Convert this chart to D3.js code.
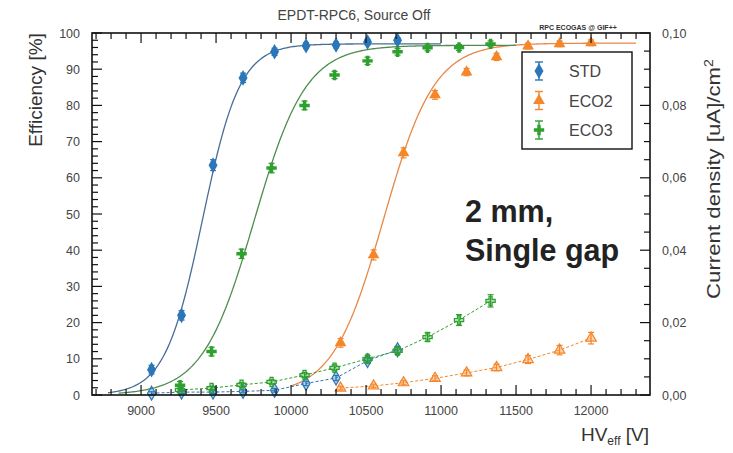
<!DOCTYPE html>
<html><head><meta charset="utf-8">
<script src="https://cdn.jsdelivr.net/npm/d3@7"></script>
<style>body{margin:0;background:#fff}svg{display:block}</style>
</head><body>
<svg id="c" width="733" height="453"></svg>
<script>
// ---- data ----
const seriesNames = ["STD", "ECO2", "ECO3"];
const colors = ["#2a76b8", "#f5862a", "#2ea02e"];
const fitColors = ["#4a6d96", "#e8884a", "#4f8c4f"];

const stdHV  = [9070, 9270, 9480, 9680, 9890, 10100, 10300, 10510, 10710];
const stdEff = [7.0, 22.0, 63.5, 87.6, 94.8, 96.5, 96.7, 97.5, 98.0];
const stdEffErr = [1.2, 1.3, 1.5, 1.3, 1.0, 0.8, 0.8, 0.8, 0.7];
const stdCur = [0.0005, 0.0008, 0.0008, 0.0010, 0.0013, 0.0032, 0.0047, 0.0095, 0.0125];
const stdCurErr = [0.0004, 0.0004, 0.0004, 0.0004, 0.0005, 0.0006, 0.0007, 0.0008, 0.0009];

const eco2HV  = [10330, 10550, 10750, 10960, 11170, 11370, 11580, 11790, 12000];
const eco2Eff = [14.4, 38.7, 66.9, 82.9, 89.2, 93.4, 96.4, 97.0, 97.3];
const eco2EffErr = [1.2, 1.4, 1.4, 1.2, 1.0, 1.0, 0.8, 0.8, 0.8];
const eco2Cur = [0.0019, 0.0025, 0.0034, 0.0046, 0.0061, 0.0076, 0.0098, 0.0124, 0.0157];
const eco2CurErr = [0.0005, 0.0005, 0.0006, 0.0007, 0.0008, 0.0009, 0.0011, 0.0013, 0.0016];

const eco3HV  = [9260, 9470, 9670, 9870, 10090, 10290, 10510, 10710, 10910, 11120, 11330];
const eco3Eff = [2.7, 12.0, 39.0, 62.7, 80.0, 88.4, 92.3, 94.8, 95.9, 96.0, 97.0];
const eco3EffErr = [1.0, 1.2, 1.3, 1.3, 1.2, 1.0, 1.0, 0.9, 0.8, 0.8, 0.8];
const eco3Cur = [0.0014, 0.0019, 0.0028, 0.0036, 0.0055, 0.0075, 0.0100, 0.0122, 0.0160, 0.0207, 0.0260];
const eco3CurErr = [0.0005, 0.0005, 0.0006, 0.0006, 0.0007, 0.0008, 0.0009, 0.0010, 0.0012, 0.0015, 0.0017];

// sigmoid fit parameters: plateau, lambda, HV50, drawn range
const fitPlateau = [97.0, 97.2, 96.6];
const fitLambda  = [0.0080, 0.0059, 0.0058];
const fitHV50    = [9410, 10617, 9755];
const fitFrom    = [8780, 10000, 8850];
const fitTo      = [11000, 12300, 11500];

const xTickLabels = [9000, 9500, 10000, 10500, 11000, 11500, 12000];
const yTickLabels = [0, 10, 20, 30, 40, 50, 60, 70, 80, 90, 100];
const y2TickLabels = [0, 0.02, 0.04, 0.06, 0.08, 0.10];

// ---- layout ----
const svg = d3.select("#c");
const L = 92, R = 650, T = 33, B = 395;
const x = d3.scaleLinear().domain([8673, 12393]).range([L, R]);
const y = d3.scaleLinear().domain([0, 100]).range([B, T]);
const y2 = d3.scaleLinear().domain([0, 0.1]).range([B, T]);
const font = "Liberation Sans, Arial, Helvetica, sans-serif";

const series = [
  {hv: stdHV, eff: stdEff, effErr: stdEffErr, cur: stdCur, curErr: stdCurErr, sym: d3.symbolDiamond, size: 70},
  {hv: eco2HV, eff: eco2Eff, effErr: eco2EffErr, cur: eco2Cur, curErr: eco2CurErr, sym: d3.symbolTriangle, size: 60},
  {hv: eco3HV, eff: eco3Eff, effErr: eco3EffErr, cur: eco3Cur, curErr: eco3CurErr, sym: d3.symbolCross, size: 60}
];

const plot = svg.append("g");

// fit curves
series.forEach((s, i) => {
  const pts = d3.range(fitFrom[i], fitTo[i] + 1, 10).map(v =>
    [v, fitPlateau[i] / (1 + Math.exp(-fitLambda[i] * (v - fitHV50[i])))]);
  plot.append("path").datum(pts)
    .attr("fill", "none").attr("stroke", fitColors[i]).attr("stroke-width", 1.3)
    .attr("d", d3.line().x(d => x(d[0])).y(d => y(d[1])));
});

// current density dashed lines
series.forEach((s, i) => {
  plot.append("path").datum(s.hv.map((v, k) => [v, s.cur[k]]))
    .attr("fill", "none").attr("stroke", colors[i]).attr("stroke-width", 1)
    .attr("stroke-dasharray", "3,2")
    .attr("d", d3.line().x(d => x(d[0])).y(d => y2(d[1])));
});

function errBars(g, xs, ys, es, sc, col) {
  xs.forEach((v, k) => {
    const cx = x(v), y1 = sc(ys[k] + es[k]), y0 = sc(ys[k] - es[k]);
    g.append("line").attr("x1", cx).attr("x2", cx).attr("y1", y1).attr("y2", y0)
      .attr("stroke", col).attr("stroke-width", 1.2);
    [y1, y0].forEach(yy => g.append("line").attr("x1", cx - 3).attr("x2", cx + 3)
      .attr("y1", yy).attr("y2", yy).attr("stroke", col).attr("stroke-width", 1.2));
  });
}

series.forEach((s, i) => {
  const g = plot.append("g");
  errBars(g, s.hv, s.cur, s.curErr, y2, colors[i]);
  s.hv.forEach((v, k) => {
    g.append("path").attr("d", d3.symbol().type(s.sym).size(s.size * 0.8)())
      .attr("transform", `translate(${x(v)},${y2(s.cur[k])})`)
      .attr("fill", colors[i]).attr("fill-opacity", 0.35)
      .attr("stroke", colors[i]).attr("stroke-width", 1.2);
  });
  errBars(g, s.hv, s.eff, s.effErr, y, colors[i]);
  s.hv.forEach((v, k) => {
    g.append("path").attr("d", d3.symbol().type(s.sym).size(s.size)())
      .attr("transform", `translate(${x(v)},${y(s.eff[k])})`)
      .attr("fill", colors[i]);
  });
});

// ---- axes (ROOT style: inward ticks) ----
const ax = svg.append("g").attr("stroke", "#111").attr("stroke-width", 1.2);
ax.append("rect").attr("x", L).attr("y", T).attr("width", R - L).attr("height", B - T)
  .attr("fill", "none").attr("stroke-width", 1.6);

d3.range(8700, 12400, 100).forEach(v => {
  const len = v % 500 === 0 ? 10 : 6;
  ax.append("line").attr("x1", x(v)).attr("x2", x(v)).attr("y1", B).attr("y2", B - len);
  ax.append("line").attr("x1", x(v)).attr("x2", x(v)).attr("y1", T).attr("y2", T + len);
});
d3.range(0, 101, 2).forEach(v => {
  const len = v % 10 === 0 ? 10 : 6;
  ax.append("line").attr("x1", L).attr("x2", L + len).attr("y1", y(v)).attr("y2", y(v));
});
d3.range(0, 21).forEach(k => {
  const v = k * 0.005;
  const len = k % 4 === 0 ? 10 : 6;
  ax.append("line").attr("x1", R).attr("x2", R - len).attr("y1", y2(v)).attr("y2", y2(v));
});

// tick labels
const tl = svg.append("g").attr("font-family", font).attr("font-size", 12.5).attr("fill", "#444");
xTickLabels.forEach(v => tl.append("text").attr("x", x(v)).attr("y", B + 20)
  .attr("text-anchor", "middle").text(v));
yTickLabels.forEach(v => tl.append("text").attr("x", 80).attr("y", y(v) + 4.5)
  .attr("text-anchor", "end").text(v));
y2TickLabels.forEach(v => tl.append("text").attr("x", 662).attr("y", y2(v) + 4.5)
  .text(v.toFixed(2).replace(".", ",")));

// titles
svg.append("text").attr("x", 354).attr("y", 20).attr("text-anchor", "middle")
  .attr("font-family", font).attr("font-size", 14).attr("fill", "#444")
  .text("EPDT-RPC6, Source Off");
svg.append("text").attr("x", 578).attr("y", 30).attr("text-anchor", "middle")
  .attr("font-family", font).attr("font-size", 7).attr("font-weight", "bold").attr("fill", "#333")
  .text("RPC ECOGAS @ GIF++");

// axis titles
svg.append("text").attr("transform", "translate(42,90) rotate(-90)").attr("text-anchor", "middle")
  .attr("font-family", font).attr("font-size", 19).attr("fill", "#333").text("Efficiency [%]");
const rt = svg.append("text").attr("transform", "translate(720,179) rotate(-90) scale(1.17,1)")
  .attr("text-anchor", "middle")
  .attr("font-family", font).attr("font-size", 19).attr("fill", "#333");
rt.append("tspan").text("Current density [uA]/cm");
rt.append("tspan").attr("dy", -7).attr("font-size", 12).text("2");
const xt = svg.append("text").attr("x", 649).attr("y", 441).attr("text-anchor", "end")
  .attr("font-family", font).attr("font-size", 19).attr("fill", "#333");
xt.append("tspan").text("HV");
xt.append("tspan").attr("dy", 4).attr("font-size", 12).text("eff");
xt.append("tspan").attr("dy", -4).text(" [V]");

// annotation
const an = svg.append("g").attr("font-family", font).attr("font-weight", "bold")
  .attr("font-size", 30.5).attr("fill", "#222");
an.append("text").attr("x", 465).attr("y", 222).text("2 mm,");
an.append("text").attr("x", 465).attr("y", 261).text("Single gap");

// legend
const lg = svg.append("g");
lg.append("rect").attr("x", 522).attr("y", 52).attr("width", 110).attr("height", 97)
  .attr("fill", "#fff").attr("stroke", "#111").attr("stroke-width", 1.4);
seriesNames.forEach((n, i) => {
  const ly = 71 + i * 29.5;
  const cx = 539;
  lg.append("line").attr("x1", cx).attr("x2", cx).attr("y1", ly - 9).attr("y2", ly + 9)
    .attr("stroke", colors[i]).attr("stroke-width", 1.4);
  [ly - 9, ly + 9].forEach(yy => lg.append("line").attr("x1", cx - 4).attr("x2", cx + 4)
    .attr("y1", yy).attr("y2", yy).attr("stroke", colors[i]).attr("stroke-width", 1.4));
  lg.append("path").attr("d", d3.symbol().type(series[i].sym).size(series[i].size)())
    .attr("transform", `translate(${cx},${ly})`).attr("fill", colors[i]);
  lg.append("text").attr("x", 569).attr("y", ly + 6).attr("font-family", font)
    .attr("font-size", 16).attr("fill", "#444").text(n);
});
</script>
</body></html>
